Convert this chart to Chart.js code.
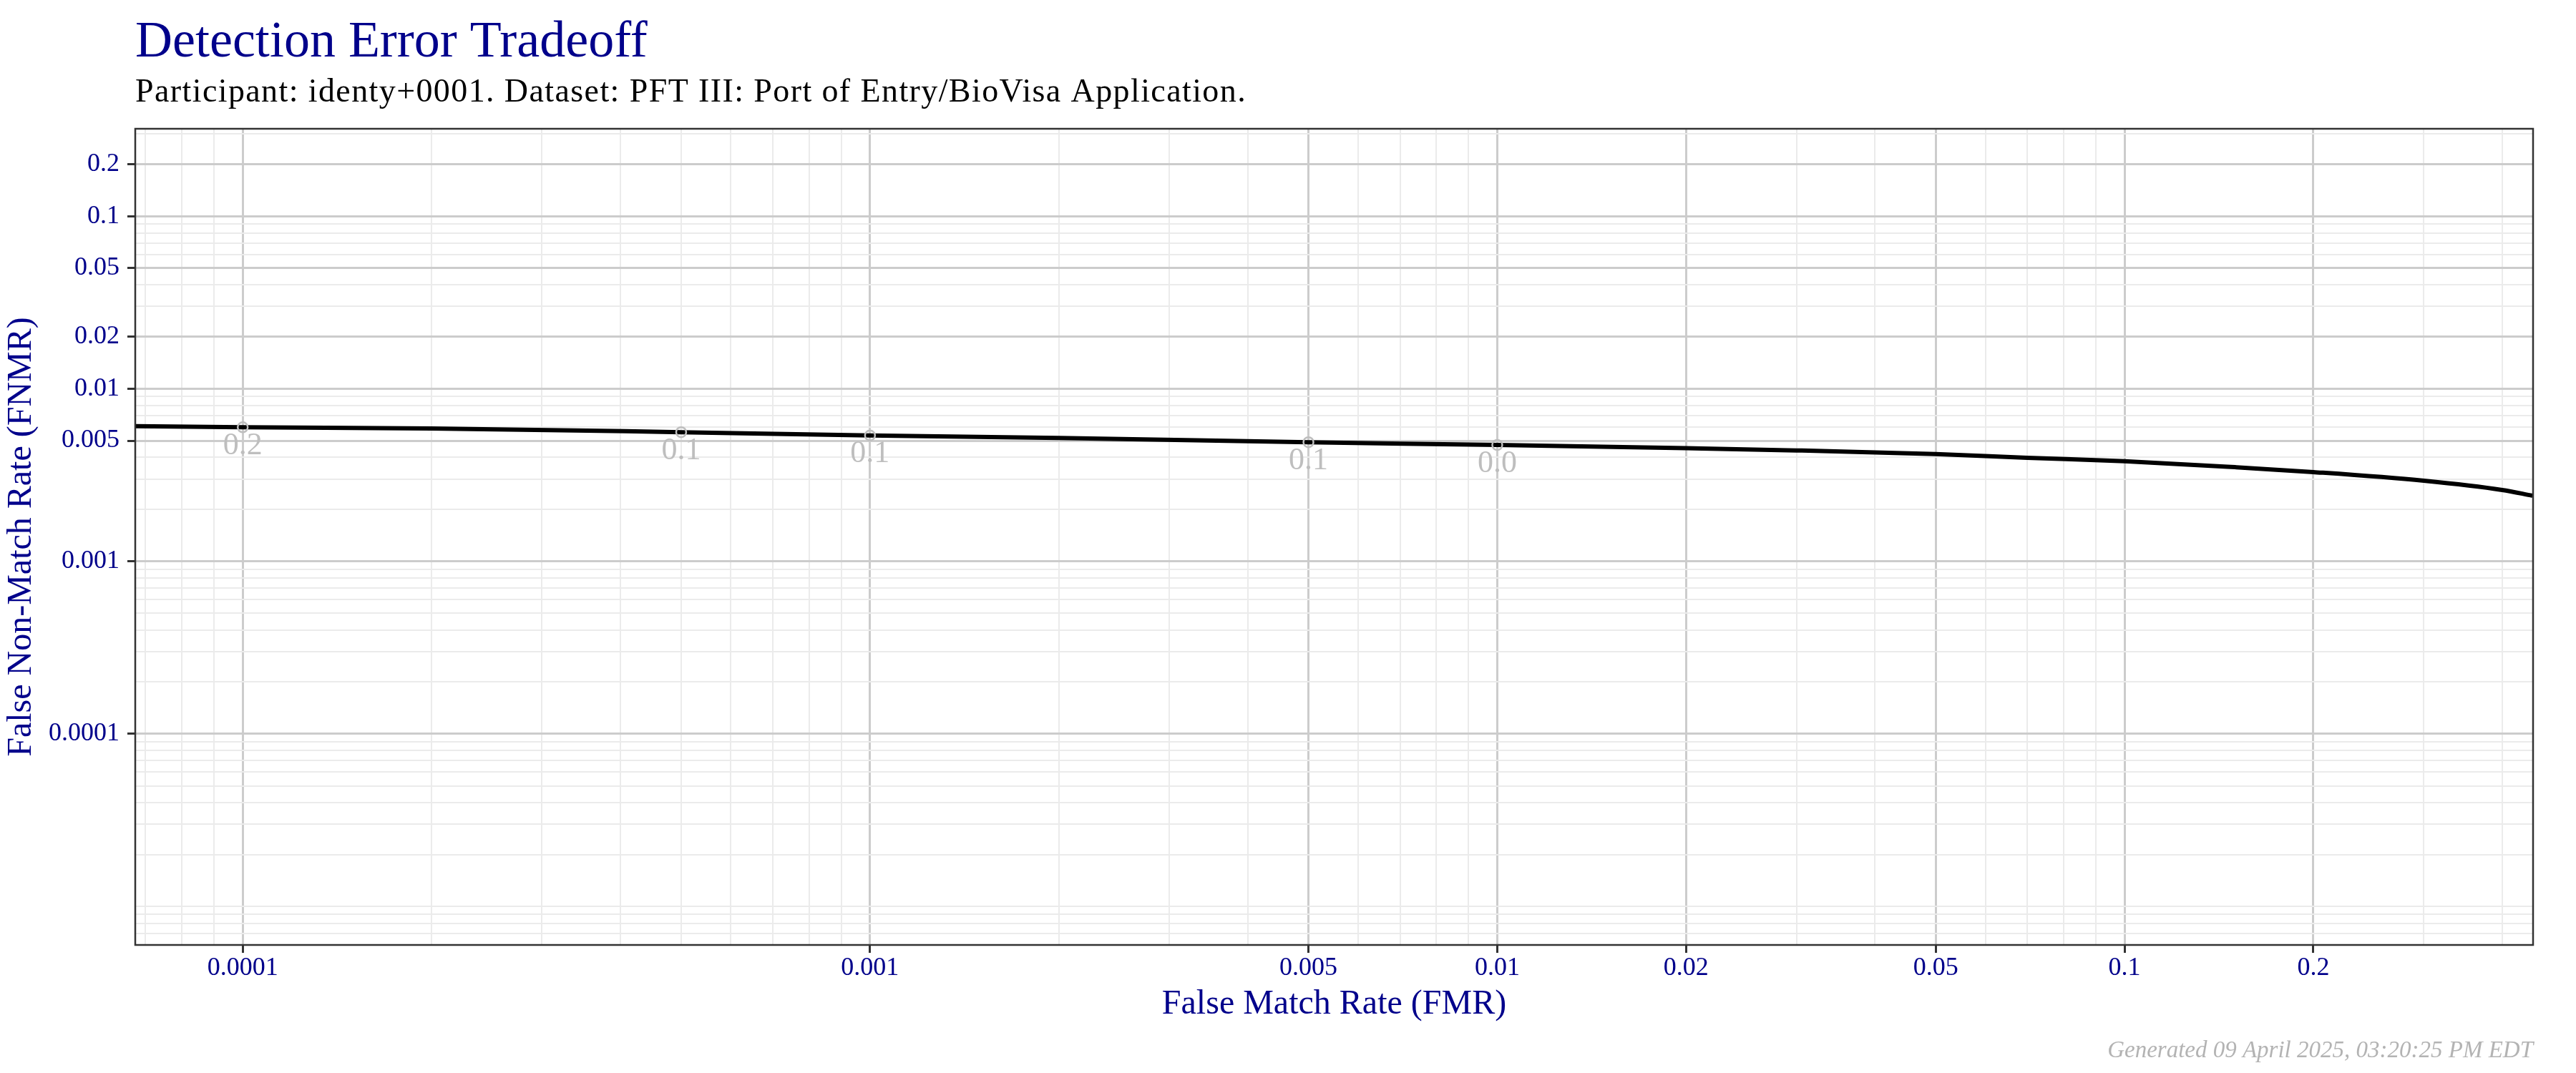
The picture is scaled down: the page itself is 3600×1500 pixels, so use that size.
<!DOCTYPE html>
<html>
<head>
<meta charset="utf-8">
<title>Detection Error Tradeoff</title>
<script src="https://cdn.jsdelivr.net/npm/chart.js@4.4.1/dist/chart.umd.min.js"></script>
<style>
  html, body { margin: 0; padding: 0; background: #ffffff; }
  #det { display: block; width: 3600px; height: 1500px; }
</style>
</head>
<body>
<canvas id="det" width="3600" height="1500"></canvas>
<script>
// DET curve
const fmr = [6.74e-5, 1e-4, 2e-4, 5e-4, 1e-3, 2e-3, 5e-3, 1e-2, 2e-2, 3e-2, 5e-2, 7e-2, 0.1, 0.15, 0.2, 0.3, 0.4, 0.447];
const fnmr = [0.00607, 0.00598, 0.00589, 0.0056, 0.00536, 0.00519, 0.0049, 0.00472, 0.00452, 0.00439, 0.00418, 0.00398, 0.0038, 0.00351, 0.00329, 0.00293, 0.00259, 0.0024];

// threshold markers on the curve
const thrFmr = [1e-4, 5e-4, 1e-3, 5e-3, 1e-2];
const thrFnmr = [0.00598, 0.0056, 0.00536, 0.0049, 0.00472];
const thrLabels = ['0.2', '0.1', '0.1', '0.1', '0.0'];

// axis breaks
const xTickValues = [0.0001, 0.001, 0.005, 0.01, 0.02, 0.05, 0.1, 0.2];
const xTickLabels = ['0.0001', '0.001', '0.005', '0.01', '0.02', '0.05', '0.1', '0.2'];
const yTickValues = [0.0001, 0.001, 0.005, 0.01, 0.02, 0.05, 0.1, 0.2];
const yTickLabels = ['0.0001', '0.001', '0.005', '0.01', '0.02', '0.05', '0.1', '0.2'];

const xMin = 6.74e-5, xMax = 0.448;
const yMin = 5.98e-6, yMax = 0.321;

const NAVY = '#00008B';
const SERIF = '"Liberation Serif", "DejaVu Serif", serif';

function same(a, b) { return Math.abs(a - b) <= Math.abs(b) * 1e-6; }
function labelFor(v, vals, labs) {
    for (let i = 0; i < vals.length; i++) if (same(v, vals[i])) return labs[i];
    return '';
}
// grid at every k * 10^n inside the range
function gridValues(min, max) {
    const out = [];
    for (let n = -7; n <= 0; n++) {
        for (let k = 1; k <= 9; k++) {
            const v = k * Math.pow(10, n);
            if (v >= min && v <= max) out.push(v);
        }
    }
    return out;
}

function axisOpts(min, max, vals, labs, pad, extra) {
    return Object.assign({
        type: 'logarithmic',
        min: min,
        max: max,
        afterBuildTicks: (scale) => {
            scale.ticks = gridValues(min, max).map(v => ({ value: v }));
            scale.min = min;
            scale.max = max;
        },
        ticks: {
            autoSkip: false,
            maxRotation: 0,
            padding: pad,
            color: NAVY,
            font: { family: SERIF, size: 36 },
            callback: (v) => labelFor(v, vals, labs)
        },
        grid: {
            color: (c) => labelFor(c.tick.value, vals, labs) ? '#cccccc' : '#ebebeb',
            lineWidth: (c) => labelFor(c.tick.value, vals, labs) ? 3 : 2,
            tickColor: (c) => labelFor(c.tick.value, vals, labs) ? '#333333' : 'rgba(0,0,0,0)',
            tickWidth: 3,
            tickLength: 11
        },
        border: { display: false }
    }, extra);
}

// title, subtitle, footer, panel border, threshold labels
const decor = {
    id: 'decor',
    afterDatasetsDraw(chart) {
        const ctx = chart.ctx;
        const xs = chart.scales.x, ys = chart.scales.y;
        ctx.save();
        ctx.fillStyle = '#bebebe';
        ctx.font = '44px ' + SERIF;
        ctx.textAlign = 'center';
        ctx.textBaseline = 'middle';
        thrFmr.forEach((x, i) => {
            ctx.fillText(thrLabels[i], xs.getPixelForValue(x), ys.getPixelForValue(thrFnmr[i]) + 26);
        });
        ctx.restore();
    },
    afterDraw(chart) {
        const ctx = chart.ctx;
        const a = chart.chartArea;
        ctx.save();
        ctx.strokeStyle = '#333333';
        ctx.lineWidth = 2.5;
        ctx.strokeRect(a.left, a.top, a.right - a.left, a.bottom - a.top);

        ctx.textBaseline = 'alphabetic';
        ctx.textAlign = 'left';
        ctx.fillStyle = NAVY;
        ctx.font = '72px ' + SERIF;
        ctx.fillText('Detection Error Tradeoff', a.left, 79);
        ctx.fillStyle = '#000000';
        ctx.font = '46px ' + SERIF;
        ctx.letterSpacing = '1.4px';
        ctx.fillText('Participant: identy+0001. Dataset: PFT III: Port of Entry/BioVisa Application.', a.left, 142);
        ctx.letterSpacing = '0px';

        ctx.textAlign = 'right';
        ctx.fillStyle = '#b3b3b3';
        ctx.font = 'italic 33px ' + SERIF;
        ctx.fillText('Generated 09 April 2025, 03:20:25 PM EDT', a.right, 1478);
        ctx.restore();
    }
};

new Chart(document.getElementById('det'), {
    type: 'line',
    data: {
        datasets: [{
            label: 'thresholds',
            data: thrFmr.map((x, i) => ({ x: x, y: thrFnmr[i] })),
            showLine: false,
            pointStyle: 'circle',
            pointRadius: 7,
            pointBorderWidth: 2.5,
            pointBorderColor: '#bebebe',
            pointBackgroundColor: 'rgba(0,0,0,0)'
        }, {
            label: 'DET',
            data: fmr.map((x, i) => ({ x: x, y: fnmr[i] })),
            borderColor: '#000000',
            borderWidth: 6,
            pointRadius: 0,
            fill: false,
            cubicInterpolationMode: 'monotone'
        }]
    },
    options: {
        responsive: false,
        devicePixelRatio: 1,
        animation: false,
        layout: { padding: { left: 0, right: 60, top: 180, bottom: 0 } },
        plugins: {
            legend: { display: false },
            tooltip: { enabled: false }
        },
        scales: {
            x: axisOpts(xMin, xMax, xTickValues, xTickLabels, 0, {
                position: 'bottom',
                afterFit: (s) => { s.height = 179; },
                title: {
                    display: true,
                    text: 'False Match Rate (FMR)',
                    color: NAVY,
                    font: { family: SERIF, size: 48 },
                    padding: { top: 0, bottom: 67 }
                }
            }),
            y: axisOpts(yMin, yMax, yTickValues, yTickLabels, 11, {
                position: 'left',
                afterFit: (s) => { s.width = 189; },
                title: {
                    display: true,
                    text: 'False Non-Match Rate (FNMR)',
                    color: NAVY,
                    font: { family: SERIF, size: 48 },
                    padding: { top: 2, bottom: 0 }
                }
            })
        }
    },
    plugins: [decor]
});
</script>
</body>
</html>
